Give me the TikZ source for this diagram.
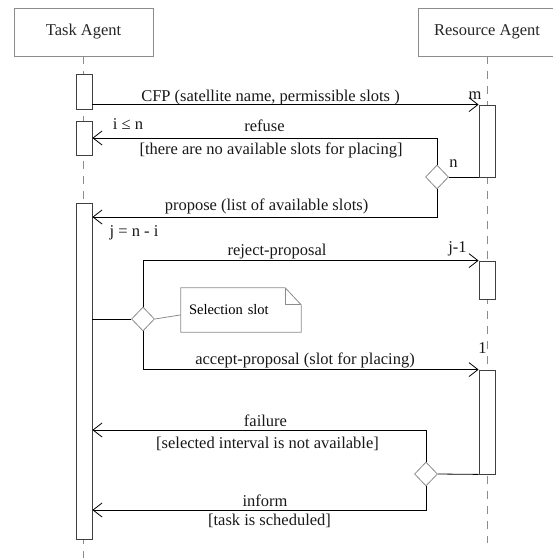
\documentclass[tikz,border=0pt]{standalone}
\usepackage{fontspec}
\setmainfont{Liberation Serif}
\usetikzlibrary{arrows.meta, positioning, shapes.geometric, calc}

\begin{document}
\begin{tikzpicture}[
    x=1pt, y=-1pt,
    font=\fontsize{16.5}{19}\selectfont,
    head/.style={draw=gray!90, line width=0.8pt, minimum width=139pt, minimum height=48pt, inner sep=0pt, text=black!85},
    life/.style={gray!90, line width=1pt, dash pattern=on 8pt off 7pt},
    act/.style={draw=black!75, fill=white, line width=0.8pt, minimum width=16pt, inner sep=0pt},
    choice/.style={diamond, draw=gray!90, fill=white, minimum width=23pt, minimum height=24pt, inner sep=0pt, line width=0.8pt},
    notebox/.style={minimum width=120pt, minimum height=44pt, text width=104pt, inner sep=8pt, align=left, font=\fontsize{14.5}{17}\selectfont},
    msg/.style={-{Straight Barb[length=9pt, width=14pt]}, line width=0.8pt},
    wire/.style={line width=0.8pt},
    lbl/.style={anchor=base, text=black!90}
]
\useasboundingbox (0,0) rectangle (553,558);

% ---- Lifelines (heads + dashed lines) ----
\node[head] (task) at (83.5, 32) {Task Agent};
\node[head, minimum width=138pt] (res) at (487, 32) {Resource Agent};
\draw[life] (task.south) -- ++(0, 502);
\draw[life] (res.south) -- ++(0, 487);

% ---- Activations ----
\node[act, minimum height=35pt] (a1) at (84, 91.5) {};
\node[act, minimum height=34pt] (a2) at (84, 138) {};
\node[act, minimum height=336pt] (a3) at (84, 371) {};
\node[act, minimum height=72pt] (r1) at (487, 141) {};
\node[act, minimum height=38pt] (r2) at (487, 280) {};
\node[act, minimum height=104pt] (r3) at (487, 422) {};

% ---- Decisions ----
\node[choice] (d1) at (437, 177) {};
\node[choice] (d2) at (143, 319) {};
\node[choice] (d3) at (426, 474) {};

% ---- CFP ----
\draw[msg] (a1.east |- r1.north) -- (r1.north west);
\node[lbl] at (270.5, 101) {CFP (satellite name, permissible slots )};
\node[lbl] at (475, 99) {m};

% ---- refuse / propose ----
\draw[wire] (d1.east) -- (d1.east -| r1.west);
\draw[msg] (d1.north) |- (a2.east);
\draw[msg] (d1.south) |- (a3.east |- 0, 217);
\node[lbl] at (128, 129) {i ≤ n};
\node[lbl] at (264.5, 131) {refuse};
\node[lbl] at (271, 154) {[there are no available slots for placing]};
\node[lbl] at (453.5, 167) {n};
\node[lbl] at (266.5, 210) {propose (list of available slots)};
\node[lbl] at (134, 236) {j = n - i};

% ---- reject / accept ----
\draw[wire] (a3.east |- d2.west) -- (d2.west);
\draw[msg] (d2.north) |- (r2.north west);
\draw[msg] (d2.south) |- (r3.north west);
\node[lbl] at (277, 255) {reject-proposal};
\node[lbl] at (457.5, 252) {j-1};
\node[lbl] at (305, 364) {accept-proposal (slot for placing)};
\node[lbl] at (482.5, 353) {1};

% ---- Note ----
\node[notebox] (sel) at (241, 310) {Selection slot};
\draw[gray!90, line width=0.8pt] (sel.north west) -- ([xshift=-16pt]sel.north east)
    -- ([yshift=-17pt]sel.north east) -- (sel.south east) -- (sel.south west) -- cycle;
\draw[gray!90, line width=0.8pt] ([xshift=-16pt]sel.north east)
    -- ([xshift=-16pt, yshift=-17pt]sel.north east) -- ([yshift=-17pt]sel.north east);
\draw[gray!90, line width=0.8pt] (d2.east) -- ($(sel.south west)!0.39!(sel.north west)$);

% ---- failure / inform ----
\draw[wire] (r3.south west) -- (d3.east);
\draw[msg] (d3.north) |- (a3.east |- 0, 430);
\draw[msg] (d3.south) |- (a3.east |- 0, 510);
\node[lbl] at (265.5, 426) {failure};
\node[lbl] at (267.5, 448) {[selected interval is not available]};
\node[lbl] at (265, 506) {inform};
\node[lbl] at (269.5, 525) {[task is scheduled]};

\end{tikzpicture}
\end{document}
